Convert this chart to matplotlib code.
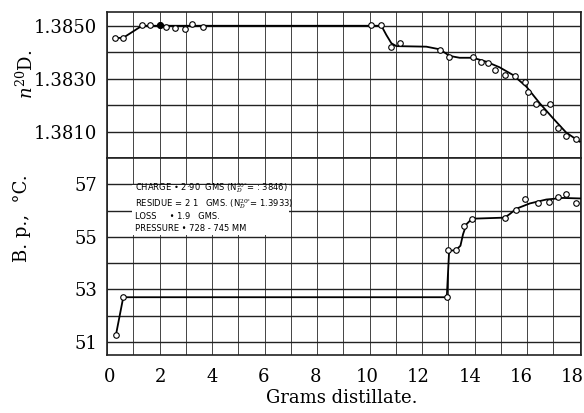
#Fractional distillation: refractive index and boiling point vs grams distillate
import matplotlib
matplotlib.use('Agg')
from matplotlib import pyplot as plt
from matplotlib.patches import Rectangle
from matplotlib.transforms import ScaledTranslation

#Refractive index readings (upper half)
n_grams=[0.30,0.61,1.33,1.64,2.02,2.25,2.59,2.97,3.23,3.65,
         10.05,10.45,10.83,11.15,12.70,13.03,13.92,14.23,14.51,14.79,
         15.14,15.55,15.91,16.03,16.32,16.60,16.86,17.17,17.49,17.87]
n_values=[1.38454,1.38454,1.38503,1.38503,1.38503,1.38496,1.38492,1.38489,1.38508,1.38496,
          1.38503,1.38503,1.38421,1.38434,1.38408,1.38383,1.38383,1.38362,1.38358,1.38333,
          1.38314,1.38310,1.38286,1.38249,1.38205,1.38175,1.38205,1.38113,1.38084,1.38071]
#hand drawn curve through the readings
n_curve_x=[0.30,0.61,1.33,10.45,10.64,10.83,11.02,12.16,12.67,13.05,13.43,13.94,
           14.45,14.95,15.46,15.97,16.48,16.98,17.49,18.0]
n_curve_y=[1.38454,1.38454,1.38500,1.38500,1.38465,1.38434,1.38423,1.38421,1.38411,1.38386,
           1.38379,1.38379,1.38364,1.38343,1.38314,1.38270,1.38207,1.38151,1.38096,1.38062]

#Boiling point readings (lower half)
bp_grams=[0.34,0.62,12.94,13.00,13.28,13.58,13.89,15.14,15.56,15.91,16.40,16.82,17.16,17.47,17.88]
bp_values=[51.26,52.70,52.70,54.51,54.49,55.42,55.68,55.72,56.02,56.43,56.28,56.32,56.51,56.62,56.28]
bp_curve_x=[0.34,0.62,12.94,13.03,13.28,13.46,13.56,13.69,13.90,15.14,15.33,15.59,16.10,16.73,17.36,18.03]
bp_curve_y=[51.26,52.70,52.70,54.47,54.49,54.66,55.10,55.48,55.69,55.73,55.86,56.07,56.27,56.42,56.48,56.46]

notes=["CHARGE \u2022 2\u00b790  GMS (N$_D^{20\u00b0}$= : 3846)",
       "RESIDUE = 2 1   GMS. (N$_D^{20\u00b0}$= 1.3933)",
       "LOSS     \u2022 1.9   GMS.",
       "PRESSURE \u2022 728 - 745 MM"]
note_y=[56.86,56.25,55.77,55.30]

n_ticks=[1.3810,1.3830,1.3850]
n_minor=[1.3800,1.3820,1.3840]
bp_ticks=[51,53,55,57]
bp_minor=[52,54,56]
x_ticks=list(range(0,19,2))
x_minor=list(range(1,18,2))

plt.rcParams['font.family']='DejaVu Serif'
plt.rcParams['mathtext.fontset']='dejavuserif'

fig=plt.figure(figsize=(5.84,4.13), dpi=100)
ax1=fig.add_axes([0.1832,0.6174,0.8116,0.3535])
ax2=fig.add_axes([0.1832,0.1404,0.8116,0.4770])

for ax in (ax1,ax2):
    ax.set_xlim(0,18.05)
    ax.set_xticks(x_ticks)
    ax.set_xticks(x_minor, minor=True)
    ax.grid(True, which='both', axis='x', color='#444444', lw=0.7)
    ax.grid(True, which='both', axis='y', color='#222222', lw=1.0)
    ax.tick_params(which='both', length=0, labelsize=13, pad=7)
    for s in ax.spines.values():
        s.set_linewidth(1.2)
        s.set_color('#222222')

#Top: refractive index
ax1.plot(n_curve_x, n_curve_y, color='black', lw=1.3, zorder=3)
ax1.plot(n_grams, n_values, 'o', ms=4, mfc='white', mec='black', mew=0.8, zorder=4)
ax1.plot([n_grams[4]], [n_values[4]], 'o', ms=4, color='black', zorder=5)
ax1.set_ylim(1.3800,1.38552)
ax1.set_yticks(n_ticks)
ax1.set_yticklabels(['%.4f' % v for v in n_ticks])
ax1.set_yticks(n_minor, minor=True)
ax1.tick_params(axis='x', labelbottom=False)

#Bottom: boiling point
ax2.plot(bp_curve_x, bp_curve_y, color='black', lw=1.3, zorder=3)
ax2.plot(bp_grams, bp_values, 'o', ms=4, mfc='white', mec='black', mew=0.8, zorder=4)
ax2.set_ylim(50.5,58)
ax2.set_yticks(bp_ticks)
ax2.set_yticks(bp_minor, minor=True)
ax2.tick_params(axis='x', pad=9)

#printed x labels drift a little left of their grid lines
fig.canvas.draw()
for lab, xv in zip(ax2.get_xticklabels(), x_ticks):
    shift=(2.5-0.53*xv)/100
    lab.set_transform(lab.get_transform()+ScaledTranslation(shift, 0, fig.dpi_scale_trans))

#notes box blanks out the grid behind it
ax2.add_patch(Rectangle((0.95,55.08), 6.0, 1.88, fc='white', ec='none', zorder=1.8))
for txt, yy in zip(notes, note_y):
    ax2.text(1.07, yy, txt, fontsize=6, family='DejaVu Sans', va='center', ha='left', zorder=3)

fig.text(26/584, 1-74/413, r'$n^{20}$D.', rotation=90, ha='center', va='center', fontsize=13)
fig.text(22/584, 1-218/413, 'B. p.,  \u00b0C.', rotation=90, ha='center', va='center', fontsize=13)
fig.text(342/584, 1-398/413, 'Grams distillate.', ha='center', va='center', fontsize=13)

plt.savefig('out.png', dpi=100)
